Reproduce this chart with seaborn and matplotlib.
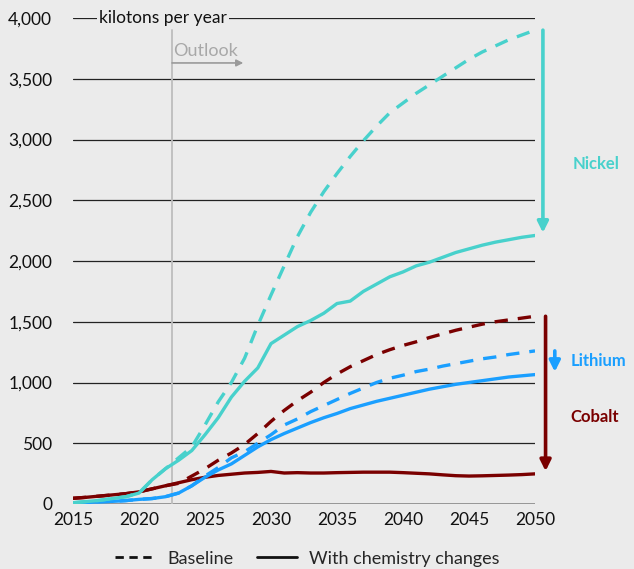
import numpy as np
import pandas as pd
import matplotlib
matplotlib.use("Agg")
import matplotlib.pyplot as plt
from matplotlib.lines import Line2D
import seaborn as sns

years = list(range(2015, 2051))

nickel_chem = [10, 20, 30, 45, 60, 90, 200, 290, 360, 440, 570, 710, 880, 1010, 1120,
               1320, 1390, 1460, 1510, 1570, 1650, 1670, 1750, 1810, 1870, 1910, 1960,
               1990, 2030, 2070, 2100, 2130, 2155, 2175, 2195, 2210]
nickel_base = [10, 20, 30, 45, 60, 90, 200, 290, 380, 470, 650, 840, 1000, 1200, 1470,
               1720, 1960, 2200, 2400, 2570, 2720, 2860, 2990, 3110, 3220, 3300, 3380,
               3450, 3520, 3590, 3660, 3720, 3770, 3820, 3860, 3900]
lithium_chem = [8, 12, 18, 22, 28, 38, 45, 60, 90, 150, 220, 280, 330, 400, 470, 530, 580,
                625, 670, 710, 745, 785, 815, 845, 870, 895, 920, 945, 965, 985, 1000,
                1015, 1030, 1045, 1055, 1065]
lithium_base = [8, 12, 18, 22, 28, 38, 45, 60, 90, 150, 230, 300, 380, 430, 500, 570, 650,
                700, 760, 810, 860, 910, 955, 1000, 1035, 1060, 1090, 1110, 1135, 1155,
                1175, 1195, 1210, 1230, 1245, 1260]
cobalt_chem = [47, 55, 65, 75, 85, 100, 125, 150, 175, 200, 220, 235, 245, 255, 260, 268,
               255, 258, 255, 255, 258, 260, 262, 262, 262, 258, 253, 248, 240, 233, 230,
               232, 235, 238, 242, 248]
cobalt_base = [47, 55, 65, 75, 85, 100, 125, 150, 170, 230, 290, 360, 420, 490, 580, 680,
               770, 850, 920, 1000, 1070, 1130, 1180, 1230, 1270, 1305, 1335, 1370, 1400,
               1430, 1455, 1480, 1500, 1515, 1530, 1545]

y_ticks = [0, 500, 1000, 1500, 2000, 2500, 3000, 3500, 4000]
x_ticks = [2015, 2020, 2025, 2030, 2035, 2040, 2045, 2050]

BG = "#ebebeb"
colors = {"Nickel": "#48d1cc", "Lithium": "#1a9fff", "Cobalt": "#7a0000"}

rows = []
for metal, base, chem in [("Cobalt", cobalt_base, cobalt_chem),
                          ("Lithium", lithium_base, lithium_chem),
                          ("Nickel", nickel_base, nickel_chem)]:
    for y, b, c in zip(years, base, chem):
        rows.append((metal, "Baseline", y, b))
        rows.append((metal, "With chemistry changes", y, c))
df = pd.DataFrame(rows, columns=["metal", "scenario", "year", "value"])

sns.set_theme(style="white")
plt.rcParams["font.family"] = ["Lato", "DejaVu Sans"]

fig = plt.figure(figsize=(6.34, 5.69), dpi=100, facecolor=BG)
ax = fig.add_axes([73 / 634, 65 / 569, 462 / 634, 486 / 569])
ax.set_facecolor(BG)

# horizontal reference lines
for t in y_ticks[1:]:
    ax.axhline(t, color="#222222", lw=0.9, zorder=1)
ax.axhline(0, color="#888888", lw=1.2, zorder=1)

# start of the projection period
ax.plot([2022.5, 2022.5], [0, 3900], color="#bdbdbd", lw=1.3, zorder=1)
ax.annotate("", xy=(2027.9, 3630), xytext=(2022.5, 3630),
            arrowprops=dict(arrowstyle="-|>", color="#9a9a9a", lw=1.2,
                            mutation_scale=10, shrinkA=0, shrinkB=0))
ax.text(2022.6, 3665, "Outlook", color="#a8a8a8", fontsize=13, ha="left", va="bottom")

sns.lineplot(data=df, x="year", y="value", hue="metal", style="scenario",
             palette=colors,
             dashes={"Baseline": (4, 3), "With chemistry changes": ""},
             linewidth=2.4, legend=False, ax=ax, zorder=3)

# gap between baseline and chemistry change in 2050
arrow_x = {"Nickel": 2050.6, "Lithium": 2051.5, "Cobalt": 2050.8}
ends = {"Nickel": (nickel_base[-1], nickel_chem[-1]),
        "Lithium": (lithium_base[-1], lithium_chem[-1]),
        "Cobalt": (cobalt_base[-1], cobalt_chem[-1])}
for metal, (b, c) in ends.items():
    ax.annotate("", xy=(arrow_x[metal], c), xytext=(arrow_x[metal], b),
                arrowprops=dict(arrowstyle="-|>", color=colors[metal], lw=2.6,
                                mutation_scale=16, shrinkA=0, shrinkB=2),
                annotation_clip=False)

ax.text(2054.6, 2800, "Nickel", color=colors["Nickel"], fontsize=12,
        fontweight="bold", ha="center", va="center", clip_on=False)
ax.text(2054.8, 1175, "Lithium", color=colors["Lithium"], fontsize=12,
        fontweight="bold", ha="center", va="center", clip_on=False)
ax.text(2054.5, 715, "Cobalt", color=colors["Cobalt"], fontsize=12,
        fontweight="bold", ha="center", va="center", clip_on=False)

ax.set_xlim(2015, 2050)
ax.set_ylim(0, 4000)
ax.set_xticks(x_ticks)
ax.set_yticks(y_ticks)
ax.set_yticklabels([f"{t:,}" for t in y_ticks])
ax.tick_params(axis="both", length=0, labelsize=12.5, colors="#111111")
ax.tick_params(axis="y", pad=15)
ax.tick_params(axis="x", pad=6)
ax.set_xlabel("")
ax.set_ylabel("")
for s in ax.spines.values():
    s.set_visible(False)

ax.text(2017.0, 4000, "kilotons per year", fontsize=12.5, color="#111111",
        ha="left", va="center", zorder=5,
        bbox=dict(facecolor=BG, edgecolor="none", pad=1.5))

handles = [Line2D([], [], color="#111111", lw=2, dashes=(3, 2)),
           Line2D([], [], color="#111111", lw=2)]
fig.legend(handles, ["Baseline", "With chemistry changes"], loc="center",
           bbox_to_anchor=(0.485, 0.018), ncol=2, frameon=False, fontsize=13,
           handlelength=2.2, columnspacing=1.3, handletextpad=0.7)

fig.savefig("out.png", dpi=100, facecolor=BG)
